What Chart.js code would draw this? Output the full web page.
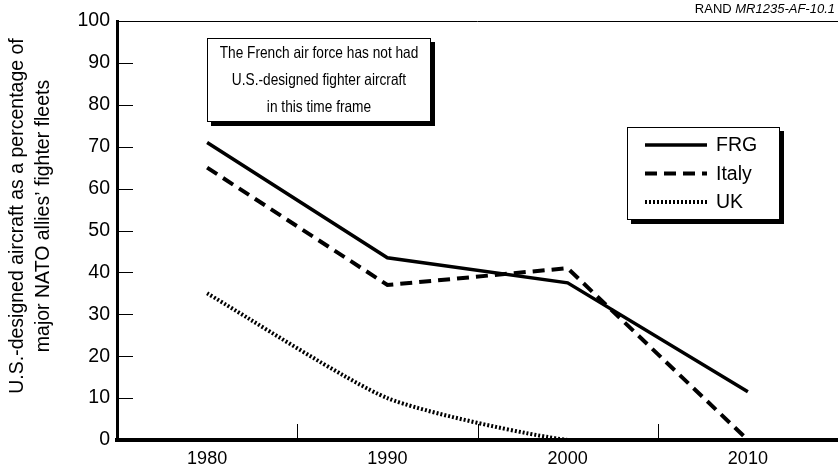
<!DOCTYPE html>
<html>
<head>
<meta charset="utf-8">
<script src="https://cdn.jsdelivr.net/npm/chart.js@4/dist/chart.umd.min.js"></script>
<style>
  html, body { margin: 0; padding: 0; background: #fff; }
  #wrap { width: 838px; height: 473px; position: relative; }
</style>
</head>
<body>
<div id="wrap"><canvas id="chart"></canvas></div>
<script>
// values
const years = [1980, 1990, 2000, 2010];
const frgValues = [71, 43.5, 37.5, 11.5];
const italyValues = [65, 37, 41, 0];
const ukValues = [35, 10, 0, 0];
const seriesNames = ['FRG', 'Italy', 'UK'];
const minorYears = [1985, 1995, 2005];
const yTickValues = [10, 20, 30, 40, 50, 60, 70, 80, 90];
const yTitleLines = ['U.S.-designed aircraft as a percentage of', 'major NATO allies\u2019 fighter fleets'];
const noteLines = ['The French air force has not had', 'U.S.-designed fighter aircraft', 'in this time frame'];

const FONT = '"Liberation Sans", Arial, Helvetica, sans-serif';
const dashes = [[], [12, 7], [2, 2]];

function toPoints(vals) {
    return years.map((yr, i) => ({ x: yr, y: vals[i] }));
}

// boxes with the heavy drop shadow like the original
function shadowBox(ctx, x, y, w, h) {
    ctx.fillStyle = '#000';
    ctx.fillRect(x + 4, y + 4, w, h);
    ctx.fillStyle = '#fff';
    ctx.fillRect(x, y, w, h);
    ctx.strokeStyle = '#000';
    ctx.lineWidth = 1;
    ctx.strokeRect(x + 0.5, y + 0.5, w - 1, h - 1);
}

// note text in the original is a slightly condensed face
function condensedText(ctx, text, cx, cy, sx) {
    ctx.save();
    ctx.translate(cx, cy);
    ctx.scale(sx, 1);
    ctx.fillText(text, 0, 0);
    ctx.restore();
}

const extras = {
    id: 'extras',
    afterDraw(chart) {
        const ctx = chart.ctx;
        const xs = chart.scales.x, ys = chart.scales.y;
        const area = chart.chartArea;
        ctx.save();

        // thin top line at 100
        ctx.strokeStyle = '#000';
        ctx.lineWidth = 1;
        const top = Math.round(ys.getPixelForValue(100)) + 0.5;
        ctx.beginPath();
        ctx.moveTo(area.left, top);
        ctx.lineTo(area.right, top);
        ctx.stroke();

        // inward tick marks
        ctx.beginPath();
        yTickValues.forEach(v => {
            const py = Math.round(ys.getPixelForValue(v)) + 0.5;
            ctx.moveTo(area.left, py);
            ctx.lineTo(area.left + 16, py);
        });
        minorYears.forEach(yr => {
            const px = Math.round(xs.getPixelForValue(yr)) + 0.5;
            ctx.moveTo(px, area.bottom);
            ctx.lineTo(px, area.bottom - 16);
        });
        ctx.stroke();

        // y title, two rotated lines
        ctx.fillStyle = '#000';
        ctx.font = '19.5px ' + FONT;
        ctx.textAlign = 'center';
        ctx.textBaseline = 'middle';
        ctx.save();
        ctx.translate(18, 216);
        ctx.rotate(-Math.PI / 2);
        ctx.fillText(yTitleLines[0], 0, 0);
        ctx.fillText(yTitleLines[1], 0, 26);
        ctx.restore();

        // note box
        shadowBox(ctx, 207, 38, 224, 84);
        ctx.fillStyle = '#000';
        ctx.font = '16.5px ' + FONT;
        noteLines.forEach((t, i) => condensedText(ctx, t, 319, 53 + i * 27, 0.83));

        // legend box
        shadowBox(ctx, 627, 127, 153, 93);
        ctx.font = '19.5px ' + FONT;
        chart.data.datasets.forEach((ds, i) => {
            const ly = 145 + i * 28.5;
            ctx.strokeStyle = '#000';
            ctx.lineWidth = ds.borderWidth;
            ctx.setLineDash(ds.borderDash || []);
            ctx.beginPath();
            ctx.moveTo(645, ly);
            ctx.lineTo(707, ly);
            ctx.stroke();
            ctx.setLineDash([]);
            ctx.textAlign = 'left';
            ctx.fillStyle = '#000';
            ctx.fillText(ds.label, 716, ly + 1);
        });

        // source tag
        ctx.textAlign = 'right';
        ctx.textBaseline = 'middle';
        const tag = 'MR1235-AF-10.1';
        ctx.font = 'italic 13px ' + FONT;
        const tagW = ctx.measureText(tag).width;
        ctx.fillText(tag, 835, 9);
        ctx.font = '13px ' + FONT;
        ctx.fillText('RAND ', 835 - tagW, 9);

        ctx.restore();
    }
};

const datasets = [frgValues, italyValues, ukValues].map((vals, i) => ({
    label: seriesNames[i],
    data: toPoints(vals),
    borderColor: '#000',
    borderWidth: i === 0 ? 3.5 : 4,
    borderDash: dashes[i],
    borderCapStyle: 'butt',
    pointRadius: 0,
    tension: i === 2 ? 0.2 : 0,
    fill: false
}));

new Chart('chart', {
    type: 'line',
    data: { datasets: datasets },
    options: {
        responsive: true,
        maintainAspectRatio: false,
        animation: false,
        layout: { padding: { top: 21, right: 0, left: 0, bottom: 0 } },
        plugins: { legend: { display: false }, tooltip: { enabled: false } },
        scales: {
            x: {
                type: 'linear',
                min: 1975,
                max: 2015,
                afterFit: s => { s.height = 33; s.paddingLeft = 0; s.paddingRight = 0; },
                grid: { display: false, drawTicks: false },
                border: { display: true, width: 4, color: '#000' },
                ticks: {
                    stepSize: 5,
                    autoSkip: false,
                    maxRotation: 0,
                    padding: 8,
                    color: '#000',
                    font: { family: FONT, size: 18 },
                    callback: v => (v % 10 === 0 ? String(v) : '')
                }
            },
            y: {
                min: 0,
                max: 100,
                afterFit: s => { s.width = 117; },
                grid: { display: false, drawTicks: false },
                border: { display: true, width: 3, color: '#000' },
                ticks: {
                    stepSize: 10,
                    padding: 7,
                    color: '#000',
                    font: { family: FONT, size: 19.5 }
                }
            }
        }
    },
    plugins: [extras]
});
</script>
</body>
</html>
